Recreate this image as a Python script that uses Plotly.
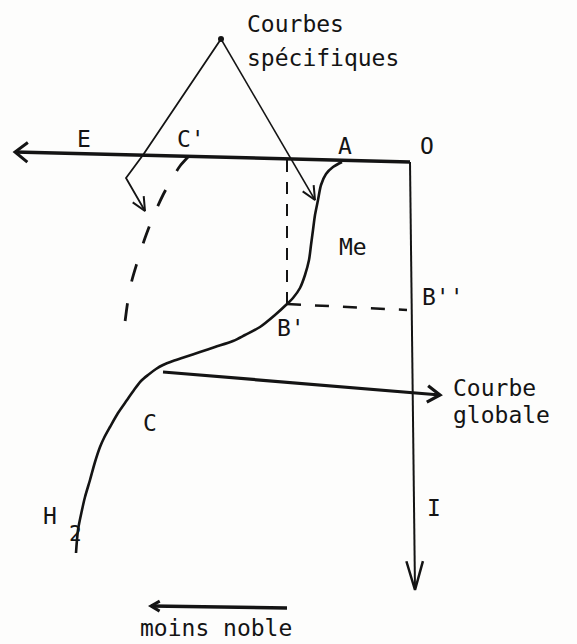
import plotly.graph_objects as go
import numpy as np

W, H = 577, 644
INK = "#141414"
FONT = "DejaVu Sans Mono"

# ---- diagram geometry (in picture units) ----
# potential axis E (left) and current axis I (down), meeting at O
axis_E_x = [15, 410]
axis_E_y = [152, 162]
axis_I_x = [410, 415]
axis_I_y = [162, 590]

# global curve  A -> B' -> C -> H2
global_x = [342, 333, 326, 321, 318, 315, 313, 311, 309, 305, 300, 293, 287, 275, 260, 245,
            233, 215, 200, 185, 173, 163, 156, 148, 141, 134, 127, 118, 110, 104, 100, 95,
            90, 85, 82, 78, 76]
global_y = [162, 167, 174, 185, 200, 215, 230, 245, 260, 275, 288, 298, 304, 315, 327, 335,
            341, 347, 352, 357, 361, 365, 369, 375, 381, 390, 400, 413, 427, 438, 447, 462,
            480, 497, 510, 530, 553]

# specific curve starting at C' (dashed)
spec_x = [188, 180, 173, 163, 153, 145, 137, 132, 128, 125]
spec_y = [157, 166, 177, 195, 217, 238, 263, 280, 300, 322]

# construction lines B' -> axis
vdash_x = [287, 287]
vdash_y = [160, 304]
hdash_x = [287, 407]
hdash_y = [304, 310]

# pointer lines from the "Courbes spécifiques" dot
dot_x, dot_y = [221], [39]
ptr1_x = [221, 143, 126, 145]
ptr1_y = [39, 155, 178, 211]
ptr2_x = [221, 290, 315]
ptr2_y = [39, 157, 200]

# pointer "Courbe globale"
glob_ptr_x = [163, 440]
glob_ptr_y = [372, 395]

# "moins noble" arrow
noble_x = [287, 151]
noble_y = [608, 606]

labels = ["E", "C'", "A", "O", "Me", "B''", "B'", "C", "H", "2", "I"]
label_x = [84, 191, 345, 427, 353, 443, 291, 150, 50, 75, 434]
label_y = [139, 139, 146, 146, 247, 297, 328, 423, 516, 534, 508]


def head(xs, ys, length, half_angle_deg):
    """V arrowhead at the last point of a polyline."""
    x1, y1, x0, y0 = xs[-1], ys[-1], xs[-2], ys[-2]
    d = np.array([x0 - x1, y0 - y1], float)
    d /= np.linalg.norm(d)
    a = np.radians(half_angle_deg)
    pts = []
    for s in (1, -1):
        c, sn = np.cos(s * a), np.sin(s * a)
        r = np.array([d[0] * c - d[1] * sn, d[0] * sn + d[1] * c]) * length
        pts.append((x1 + r[0], y1 + r[1]))
    return [pts[0][0], x1, pts[1][0]], [pts[0][1], y1, pts[1][1]]


fig = go.Figure()


def line(x, y, width, dash="solid", shape="linear"):
    fig.add_trace(go.Scatter(x=x, y=y, mode="lines", hoverinfo="skip", showlegend=False,
                             line=dict(color=INK, width=width, dash=dash, shape=shape,
                                       smoothing=0.8)))


# axes
line(axis_E_x, axis_E_y, 3.5)
line(*head(axis_E_x[::-1], axis_E_y[::-1], 16, 38), 3)
line(axis_I_x, axis_I_y, 2)
line(*head(axis_I_x, axis_I_y, 30, 16), 2.5)

# curves
line(global_x, global_y, 2.6, shape="spline")
line(spec_x, spec_y, 2.8, dash="18px,22px", shape="spline")
line(vdash_x, vdash_y, 2, dash="12px,10px")
line(hdash_x, hdash_y, 2.5, dash="14px,14px")

# pointers
line(ptr1_x, ptr1_y, 1.8)
line(*head(ptr1_x, ptr1_y, 15, 25), 2)
line(ptr2_x, ptr2_y, 1.5)
line(*head(ptr2_x, ptr2_y, 15, 25), 2)
fig.add_trace(go.Scatter(x=dot_x, y=dot_y, mode="markers", hoverinfo="skip", showlegend=False,
                         marker=dict(color=INK, size=6)))

line(glob_ptr_x, glob_ptr_y, 3.2)
line(*head(glob_ptr_x, glob_ptr_y, 15, 33), 3.2)
line(noble_x, noble_y, 3.5)
line(*head(noble_x, noble_y, 10, 30), 3)

ann = []
for t, x, y in zip(labels, label_x, label_y):
    ann.append(dict(x=x, y=y, text=t, showarrow=False, xanchor="center", yanchor="middle",
                    font=dict(family=FONT, size=23 if t != "2" else 21, color=INK)))
for t, x, y in [("Courbes", 245, 24), ("spécifiques", 245, 58),
                ("Courbe", 451, 388), ("globale", 451, 415)]:
    ann.append(dict(x=x, y=y, text=t, showarrow=False, xanchor="left", yanchor="middle",
                    font=dict(family=FONT, size=23, color=INK)))
ann.append(dict(x=216, y=628, text="moins noble", showarrow=False, xanchor="center",
                yanchor="middle", font=dict(family=FONT, size=23, color=INK)))

fig.update_layout(
    width=W, height=H, margin=dict(l=0, r=0, t=0, b=0),
    paper_bgcolor="#fdfdfc", plot_bgcolor="#fdfdfc",
    xaxis=dict(range=[0, W], visible=False, fixedrange=True),
    yaxis=dict(range=[H, 0], visible=False, fixedrange=True),
    annotations=ann, showlegend=False,
)
fig.write_html("out.html", config={"displayModeBar": False, "staticPlot": True},
               post_script="document.body.style.margin='0';document.body.style.overflow='hidden';")
